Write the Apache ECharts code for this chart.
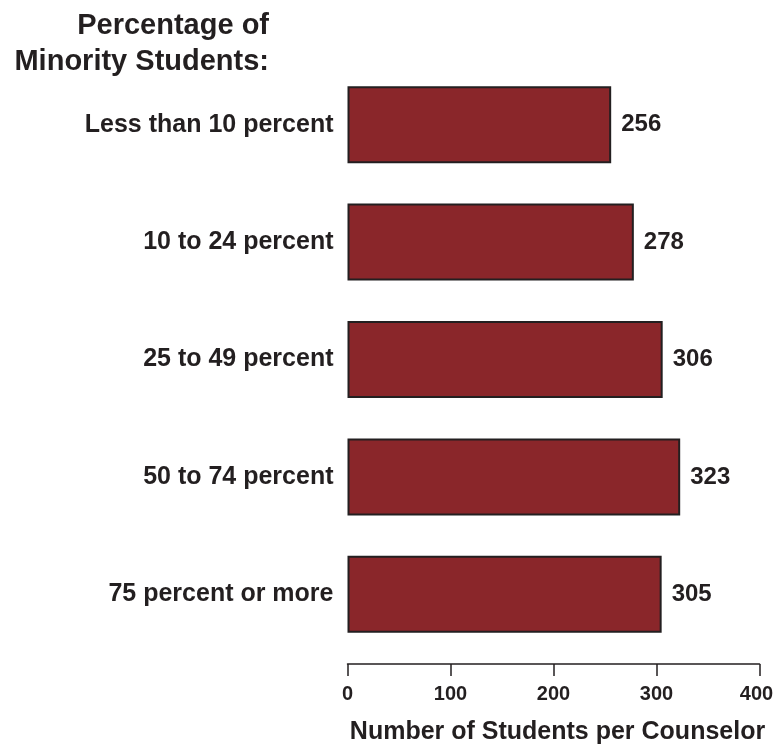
<!DOCTYPE html>
<html>
<head>
<meta charset="utf-8">
<script src="https://cdn.jsdelivr.net/npm/echarts@6/dist/echarts.min.js"></script>
<style>
  html, body { margin: 0; padding: 0; background: #fff; overflow: hidden; }
  #chart { width: 773px; height: 746px; }
</style>
</head>
<body>
<div id="chart"></div>
<script>
// Minority share of the school, top row first
const categories = [
  'Less than 10 percent',
  '10 to 24 percent',
  '25 to 49 percent',
  '50 to 74 percent',
  '75 percent or more'
];
// Students per counselor for each group
const ratios = [256, 278, 306, 323, 305];
const xTicks = [0, 100, 200, 300, 400];
const headingLines = ['Percentage of', 'Minority Students:'];

const FONT = '"Liberation Sans", Arial, Helvetica, sans-serif';
const INK = '#231f20';
const X_MAX = xTicks[xTicks.length - 1];

const chart = echarts.init(document.getElementById('chart'), null, { renderer: 'canvas' });

// Two-line heading above the category labels, right-aligned with them
const heading = headingLines.map((line, i) => ({
  type: 'text',
  x: 269,
  y: 26 + i * 36,
  style: {
    text: line,
    font: 'bold 29px ' + FONT,
    fill: INK,
    textAlign: 'right',
    textVerticalAlign: 'middle',
    align: 'right',
    verticalAlign: 'middle'
  }
}));

chart.setOption({
  animation: false,
  backgroundColor: '#ffffff',
  graphic: heading,
  grid: {
    left: 347.5,
    right: 13.5,
    top: 66,
    bottom: 93,
    containLabel: false,
    outerBoundsMode: 'none'
  },
  xAxis: {
    type: 'value',
    min: xTicks[0],
    max: X_MAX,
    interval: 100,
    offset: 11,
    axisLine: { show: true, lineStyle: { color: INK, width: 1.5 } },
    axisTick: { show: true, length: 12, lineStyle: { color: INK, width: 1.5 } },
    axisLabel: {
      color: INK,
      fontFamily: FONT,
      fontWeight: 'bold',
      fontSize: 20,
      margin: 20,
      // keep the last tick label inside the page edge
      formatter: (v) => (v === X_MAX ? '{last|' + v + '}' : String(v)),
      rich: {
        last: {
          color: INK,
          fontFamily: FONT,
          fontWeight: 'bold',
          fontSize: 20,
          padding: [0, 6, 0, 0]
        }
      }
    },
    splitLine: { show: false },
    name: 'Number of Students per Counselor',
    nameLocation: 'middle',
    nameGap: 56,
    nameTextStyle: {
      color: INK,
      fontFamily: FONT,
      fontWeight: 'bold',
      fontSize: 25,
      padding: [0, 0, 0, 8]
    }
  },
  yAxis: {
    type: 'category',
    inverse: true,
    data: categories,
    axisLine: { show: false },
    axisTick: { show: false },
    axisLabel: {
      color: INK,
      fontFamily: FONT,
      fontWeight: 'bold',
      fontSize: 25,
      margin: 14
    }
  },
  series: [{
    type: 'bar',
    data: ratios,
    barWidth: 77,
    itemStyle: {
      color: '#8a262a',
      borderColor: '#231f20',
      borderWidth: 2
    },
    label: {
      show: true,
      position: 'right',
      distance: 10,
      color: INK,
      fontFamily: FONT,
      fontWeight: 'bold',
      fontSize: 24
    }
  }]
});
</script>
</body>
</html>
